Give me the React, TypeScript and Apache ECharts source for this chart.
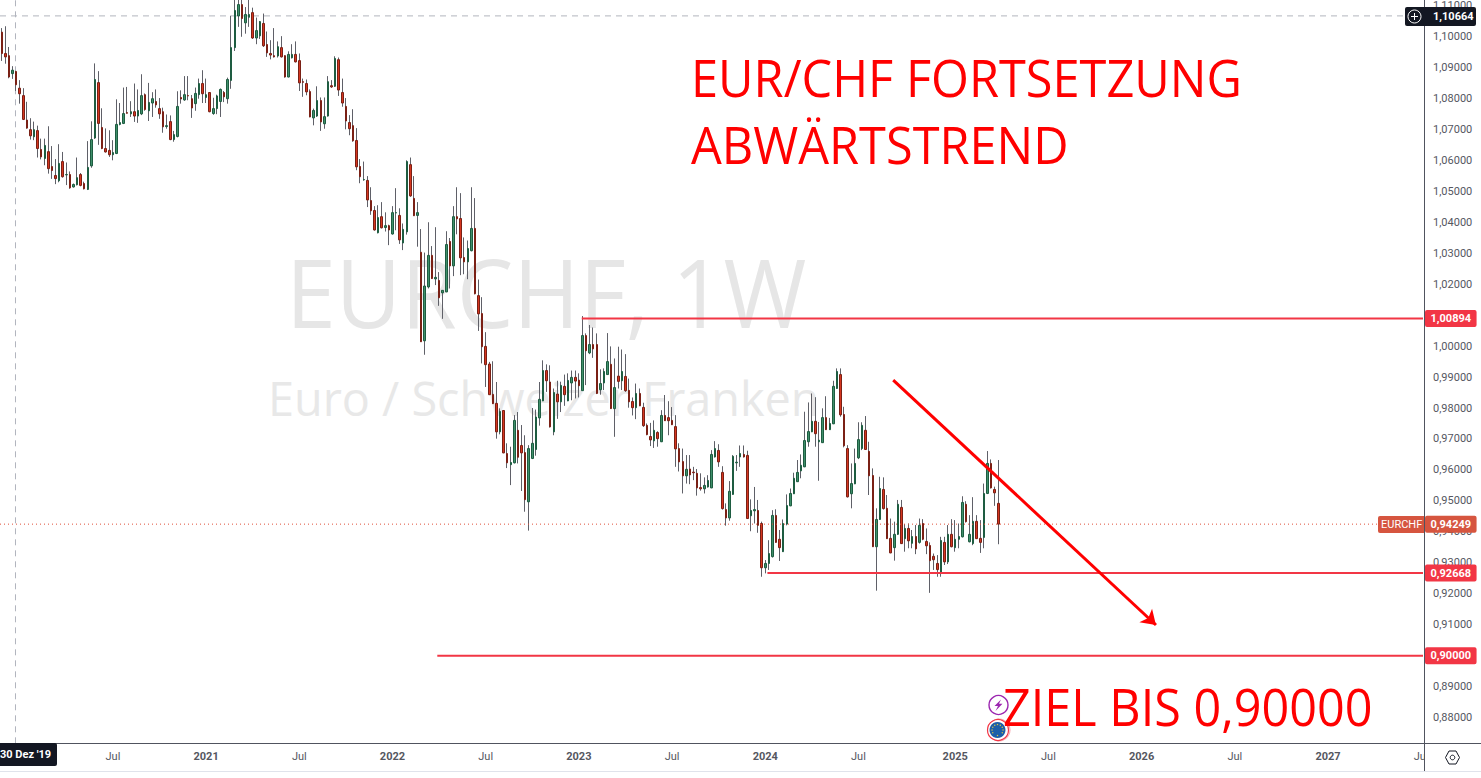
import React, { useEffect, useRef } from "react";
import * as echarts from "echarts";

const opens = [
1.1014,1.0945,1.0938,1.0880,1.0887,1.0833,1.0809,1.0730,1.0699,1.0676,
1.0696,1.0635,1.0606,1.0628,1.0580,1.0551,1.0534,1.0596,1.0553,1.0554,
1.0514,1.0521,1.0554,1.0525,1.0506,1.0582,1.0672,1.0851,1.0706,1.0638,
1.0632,1.0618,1.0622,1.0716,1.0719,1.0754,1.0750,1.0757,1.0743,1.0750,
1.0812,1.0760,1.0785,1.0790,1.0767,1.0757,1.0709,1.0725,1.0667,1.0677,
1.0803,1.0795,1.0809,1.0799,1.0783,1.0812,1.0848,1.0803,1.0819,1.0751,
1.0767,1.0790,1.0819,1.0799,1.0858,1.0964,1.1066,1.1103,1.1044,1.1062,
1.1077,1.0995,1.1002,1.1042,1.0974,1.0945,1.0938,1.0937,1.0964,1.0938,
1.0869,1.0931,1.0942,1.0922,1.0854,1.0848,1.0822,1.0737,1.0743,1.0793,
1.0718,1.0743,1.0841,1.0839,1.0925,1.0819,1.0774,1.0722,1.0712,1.0664,
1.0580,1.0537,1.0535,1.0470,1.0438,1.0366,1.0418,1.0383,1.0389,1.0362,
1.0430,1.0422,1.0333,1.0369,1.0586,1.0477,1.0422,1.0303,1.0017,1.0191,
1.0293,1.0217,1.0212,1.0172,1.0175,1.0338,1.0259,1.0418,1.0412,1.0286,
1.0272,1.0308,1.0380,1.0163,1.0105,0.9999,0.9942,0.9844,0.9815,0.9723,
0.9792,0.9653,0.9617,0.9623,0.9728,0.9679,0.9656,0.9497,0.9637,0.9666,
0.9768,0.9823,0.9921,0.9884,0.9723,0.9845,0.9820,0.9870,0.9823,0.9881,
0.9899,0.9890,0.9856,1.0034,0.9978,1.0005,1.0005,0.9859,0.9881,0.9908,
0.9941,0.9798,0.9903,0.9888,0.9902,0.9857,0.9821,0.9801,0.9847,0.9802,
0.9744,0.9708,0.9694,0.9721,0.9691,0.9776,0.9769,0.9760,0.9740,0.9669,
0.9627,0.9581,0.9603,0.9593,0.9589,0.9543,0.9539,0.9545,0.9542,0.9642,
0.9663,0.9592,0.9472,0.9445,0.9521,0.9623,0.9642,0.9650,0.9647,0.9452,
0.9468,0.9469,0.9427,0.9284,0.9298,0.9320,0.9453,0.9376,0.9336,0.9425,
0.9484,0.9523,0.9562,0.9597,0.9610,0.9691,0.9723,0.9757,0.9691,0.9688,
0.9769,0.9730,0.9749,0.9863,0.9908,0.9779,0.9669,0.9523,0.9555,0.9639,
0.9669,0.9728,0.9660,0.9582,0.9352,0.9440,0.9537,0.9476,0.9379,0.9349,
0.9392,0.9479,0.9378,0.9411,0.9363,0.9385,0.9366,0.9427,0.9369,0.9356,
0.9321,0.9298,0.9268,0.9366,0.9303,0.9392,0.9349,0.9376,0.9384,0.9489,
0.9368,0.9362,0.9434,0.9379,0.9382,0.9524,0.9621,0.9537,0.9492,
];

const closes = [
1.0945,1.0934,1.0869,1.0891,1.0844,1.0815,1.0732,1.0704,1.0679,1.0699,
1.0638,1.0611,1.0648,1.0573,1.0567,1.0541,1.0590,1.0547,1.0554,1.0511,
1.0522,1.0544,1.0519,1.0508,1.0577,1.0667,1.0861,1.0719,1.0638,1.0627,
1.0618,1.0625,1.0716,1.0722,1.0751,1.0752,1.0757,1.0743,1.0761,1.0809,
1.0764,1.0787,1.0799,1.0779,1.0750,1.0708,1.0712,1.0667,1.0683,1.0774,
1.0798,1.0812,1.0808,1.0769,1.0816,1.0848,1.0815,1.0812,1.0757,1.0767,
1.0808,1.0829,1.0805,1.0861,1.0964,1.1084,1.1103,1.1058,1.1071,1.1071,
1.0995,1.1019,1.1048,1.0970,1.0947,1.0940,1.0934,1.0967,1.0934,1.0869,
1.0942,1.0942,1.0918,1.0850,1.0852,1.0821,1.0740,1.0761,1.0793,1.0724,
1.0741,1.0854,1.0837,1.0929,1.0827,1.0785,1.0727,1.0702,1.0663,1.0579,
1.0547,1.0538,1.0472,1.0437,1.0375,1.0415,1.0382,1.0389,1.0375,1.0431,
1.0431,1.0343,1.0377,1.0596,1.0485,1.0421,1.0431,1.0014,1.0194,1.0293,
1.0218,1.0222,1.0156,1.0180,1.0328,1.0259,1.0418,1.0411,1.0285,1.0272,
1.0315,1.0380,1.0169,1.0104,0.9998,0.9940,0.9843,0.9814,0.9723,0.9789,
0.9655,0.9623,0.9624,0.9760,0.9641,0.9655,0.9504,0.9669,0.9686,0.9771,
0.9828,0.9921,0.9888,0.9739,0.9850,0.9820,0.9873,0.9843,0.9889,0.9899,
0.9887,0.9872,1.0034,0.9985,1.0005,0.9991,0.9847,0.9879,0.9918,0.9950,
0.9798,0.9866,0.9886,0.9918,0.9856,0.9820,0.9801,0.9847,0.9807,0.9743,
0.9714,0.9697,0.9728,0.9701,0.9776,0.9759,0.9759,0.9746,0.9668,0.9626,
0.9581,0.9602,0.9584,0.9591,0.9542,0.9539,0.9550,0.9566,0.9650,0.9669,
0.9626,0.9475,0.9445,0.9531,0.9644,0.9625,0.9653,0.9642,0.9443,0.9469,
0.9472,0.9421,0.9284,0.9298,0.9330,0.9453,0.9366,0.9349,0.9427,0.9485,
0.9524,0.9573,0.9592,0.9615,0.9695,0.9724,0.9757,0.9717,0.9696,0.9769,
0.9730,0.9750,0.9870,0.9918,0.9778,0.9678,0.9513,0.9556,0.9621,0.9698,
0.9744,0.9666,0.9581,0.9352,0.9440,0.9540,0.9475,0.9378,0.9332,0.9392,
0.9489,0.9362,0.9411,0.9371,0.9385,0.9345,0.9421,0.9376,0.9355,0.9307,
0.9310,0.9278,0.9372,0.9303,0.9392,0.9352,0.9376,0.9385,0.9495,0.9433,
0.9392,0.9434,0.9378,0.9366,0.9524,0.9621,0.9542,0.9526,0.94249,
];

const highs = [
1.1027,1.1033,1.0966,1.0904,1.0889,1.0859,1.0833,1.0789,1.0736,1.0725,
1.0712,1.0670,1.0670,1.0710,1.0646,1.0604,1.0652,1.0627,1.0593,1.0564,
1.0525,1.0609,1.0559,1.0531,1.0662,1.0726,1.0913,1.0888,1.0768,1.0703,
1.0697,1.0665,1.0797,1.0785,1.0835,1.0837,1.0791,1.0848,1.0829,1.0878,
1.0816,1.0850,1.0820,1.0829,1.0801,1.0770,1.0748,1.0745,1.0695,1.0823,
1.0826,1.0872,1.0872,1.0811,1.0835,1.0864,1.0891,1.0864,1.0820,1.0802,
1.0812,1.0832,1.0824,1.0867,1.1067,1.1120,1.1128,1.1122,1.1095,1.1125,
1.1093,1.1061,1.1050,1.1074,1.1016,1.0988,1.1027,1.0984,1.1001,1.0939,
1.0952,1.0975,1.0984,1.0945,1.0864,1.0861,1.0829,1.0767,1.0839,1.0803,
1.0803,1.0872,1.0859,1.0936,1.0932,1.0864,1.0801,1.0746,1.0765,1.0704,
1.0604,1.0596,1.0549,1.0513,1.0452,1.0455,1.0465,1.0432,1.0392,1.0452,
1.0510,1.0445,1.0396,1.0600,1.0609,1.0549,1.0465,1.0378,1.0302,1.0400,
1.0323,1.0384,1.0239,1.0180,1.0371,1.0349,1.0452,1.0513,1.0494,1.0351,
1.0341,1.0513,1.0478,1.0215,1.0158,1.0045,0.9949,0.9951,0.9884,0.9799,
0.9792,0.9686,0.9675,0.9777,0.9787,0.9745,0.9712,0.9680,0.9800,0.9795,
0.9884,0.9954,0.9941,0.9938,0.9863,0.9888,0.9885,0.9908,0.9912,0.9921,
0.9921,0.9912,1.0097,1.0041,1.0068,1.0060,1.0041,0.9925,0.9928,1.0042,
0.9999,0.9960,0.9998,0.9989,0.9974,0.9895,0.9834,0.9879,0.9863,0.9817,
0.9750,0.9752,0.9760,0.9725,0.9793,0.9842,0.9822,0.9803,0.9777,0.9686,
0.9669,0.9648,0.9648,0.9610,0.9603,0.9589,0.9576,0.9583,0.9664,0.9693,
0.9683,0.9612,0.9492,0.9564,0.9648,0.9648,0.9679,0.9679,0.9662,0.9505,
0.9545,0.9503,0.9433,0.9309,0.9373,0.9470,0.9473,0.9406,0.9440,0.9521,
0.9540,0.9591,0.9632,0.9650,0.9788,0.9818,0.9847,0.9835,0.9755,0.9799,
0.9838,0.9768,0.9888,0.9928,0.9928,0.9804,0.9680,0.9621,0.9669,0.9754,
0.9754,0.9774,0.9691,0.9605,0.9476,0.9578,0.9576,0.9519,0.9443,0.9433,
0.9503,0.9503,0.9425,0.9427,0.9406,0.9422,0.9443,0.9441,0.9411,0.9366,
0.9330,0.9325,0.9384,0.9384,0.9422,0.9441,0.9438,0.9427,0.9515,0.9499,
0.9454,0.9512,0.9454,0.9438,0.9556,0.9661,0.9634,0.9546,0.9632,
];

const lows = [
1.0921,1.0912,1.0865,1.0863,1.0824,1.0783,1.0730,1.0702,1.0667,1.0665,
1.0609,1.0603,1.0584,1.0557,1.0540,1.0523,1.0529,1.0544,1.0520,1.0508,
1.0512,1.0519,1.0516,1.0506,1.0504,1.0576,1.0669,1.0650,1.0636,1.0625,
1.0611,1.0600,1.0620,1.0713,1.0717,1.0751,1.0740,1.0724,1.0721,1.0746,
1.0760,1.0727,1.0740,1.0770,1.0734,1.0689,1.0702,1.0665,1.0660,1.0674,
1.0783,1.0792,1.0794,1.0737,1.0760,1.0799,1.0785,1.0785,1.0755,1.0747,
1.0749,1.0740,1.0788,1.0783,1.0831,1.0953,1.1031,1.0999,1.1009,1.1031,
1.0992,1.0975,1.0992,1.0966,1.0934,1.0926,1.0932,1.0932,1.0932,1.0867,
1.0868,1.0929,1.0916,1.0824,1.0805,1.0810,1.0739,1.0713,1.0740,1.0695,
1.0702,1.0741,1.0834,1.0837,1.0808,1.0773,1.0700,1.0681,1.0660,1.0568,
1.0526,1.0534,1.0449,1.0424,1.0373,1.0364,1.0380,1.0370,1.0326,1.0360,
1.0374,1.0330,1.0310,1.0360,1.0482,1.0420,1.0321,1.0014,0.9972,1.0186,
1.0217,1.0197,1.0130,1.0088,1.0174,1.0186,1.0226,1.0361,1.0229,1.0232,
1.0216,1.0306,1.0167,1.0049,0.9944,0.9868,0.9842,0.9813,0.9701,0.9715,
0.9654,0.9606,0.9551,0.9621,0.9621,0.9532,0.9465,0.9404,0.9635,0.9646,
0.9743,0.9822,0.9852,0.9737,0.9712,0.9765,0.9787,0.9807,0.9822,0.9825,
0.9831,0.9834,0.9855,0.9874,0.9974,0.9962,0.9845,0.9843,0.9858,0.9907,
0.9797,0.9707,0.9863,0.9858,0.9852,0.9801,0.9776,0.9764,0.9806,0.9739,
0.9712,0.9677,0.9671,0.9675,0.9690,0.9758,0.9712,0.9745,0.9610,0.9595,
0.9524,0.9556,0.9554,0.9567,0.9517,0.9533,0.9524,0.9543,0.9541,0.9640,
0.9610,0.9472,0.9420,0.9436,0.9520,0.9597,0.9610,0.9640,0.9442,0.9402,
0.9427,0.9397,0.9255,0.9266,0.9277,0.9317,0.9365,0.9306,0.9335,0.9421,
0.9483,0.9522,0.9561,0.9573,0.9609,0.9675,0.9722,0.9675,0.9565,0.9687,
0.9729,0.9729,0.9748,0.9862,0.9772,0.9673,0.9511,0.9476,0.9554,0.9635,
0.9664,0.9665,0.9519,0.9351,0.9210,0.9439,0.9472,0.9377,0.9331,0.9307,
0.9390,0.9361,0.9336,0.9347,0.9347,0.9328,0.9362,0.9373,0.9328,0.9203,
0.9277,0.9255,0.9255,0.9293,0.9296,0.9350,0.9336,0.9347,0.9382,0.9430,
0.9366,0.9357,0.9377,0.9332,0.9347,0.9522,0.9540,0.9484,0.9360,
];

// Weekly categories, first candle 2 Dec 2019, running on past the data into 2027
const WEEK_COUNT = 397;
const categories: string[] = [];
for (let i = 0; i < WEEK_COUNT; i++) {
  categories.push(new Date(Date.UTC(2019, 11, 2 + i * 7)).toISOString().slice(0, 10));
}

const xTickLabels: Record<string, string> = {
  "2020-07-06": "Jul", "2021-01-04": "2021", "2021-07-05": "Jul", "2022-01-03": "2022",
  "2022-07-04": "Jul", "2023-01-02": "2023", "2023-07-03": "Jul", "2024-01-01": "2024",
  "2024-07-01": "Jul", "2025-01-06": "2025", "2025-07-07": "Jul", "2026-01-05": "2026",
  "2026-07-06": "Jul", "2027-01-04": "2027", "2027-07-05": "Jul",
};
// 0,90000 and 1,01000 are left out: the price tags take their place in the reference
const yTickValues = [0.88,0.89,0.91,0.92,0.93,0.94,0.95,0.96,0.97,0.98,0.99,1.0,1.02,1.03,1.04,1.05,1.06,1.07,1.08,1.09,1.10,1.11];

const LAST_PRICE = 0.94249;
const CROSS_PRICE = 1.10664;
const CROSS_WEEK = 4.32;
const levelLines = [
  { price: 1.00894, from: 162.3 },
  { price: 0.92668, from: 214.1 },
  { price: 0.9, from: 122.0 },
];
const arrowStart: [number, number] = [249.2, 0.98902];
const arrowEnd: [number, number] = [322.5, 0.90991];

const Y_MIN = 0.87171;
const Y_MAX = 1.11172;
const fmt = (v: number) => v.toFixed(5).replace(".", ",");
const UI_FONT = "Roboto, sans-serif";
const NOTE_FONT = "'Open Sans', sans-serif";

const note = (text: string, x: number, y: number, scaleX: number, size: number, fill: string, z: number) => ({
  type: "text", z, silent: true, x, y, scaleX, originX: 0, originY: 0,
  style: { x: 0, y: 0, textVerticalAlign: "bottom", text, fill, font: `${size}px ${NOTE_FONT}` },
});

export default function App() {
  const ref = useRef<HTMLDivElement>(null);
  useEffect(() => {
    const chart = echarts.init(ref.current!, undefined, { renderer: "svg" });
    const wick = opens.map((o, i) => [o, closes[i], lows[i], highs[i]]);
    const body = opens.map((o, i) => [o, closes[i], Math.min(o, closes[i]), Math.max(o, closes[i])]);
    const tag = (bg: string) => ({
      show: true, distance: 2, align: "left", verticalAlign: "middle",
      color: "#fff", backgroundColor: bg, borderRadius: 2, padding: [2, 5.5, 2, 5.5],
      fontFamily: UI_FONT, fontWeight: "bold", fontSize: 11, lineHeight: 13,
      formatter: (p: any) => fmt(p.value[1]),
    });
    const lineSeries = (name: string, data: any[], lineStyle: any, extra: any = {}) => ({
      type: "line", name, xAxisIndex: 1, yAxisIndex: 0, data, symbol: "none", silent: true, clip: false,
      lineStyle, z: 5, ...extra,
    });
    const graphic: any[] = [
      note("EURCHF, 1W", 286, 339, 0.935, 96, "#e6e6e6", -5),
      note("Euro / Schweizer Franken", 268, 421, 0.975, 48, "#e8e8e8", -5),
      note("EUR/CHF FORTSETZUNG", 691, 103, 0.937, 52, "#ff0000", 60),
      note("ABWÄRTSTREND", 691, 170, 0.937, 52, "#ff0000", 60),
      note("ZIEL BIS 0,90000", 1003, 732, 0.934, 52, "#ff0000", 60),
      // bottom strip and right scale frame
      { type: "rect", z: 50, silent: true, shape: { x: 1425, y: 744, width: 56, height: 26 }, style: { fill: "#fff" } },
      { type: "line", z: 51, silent: true, shape: { x1: 0, y1: 743.5, x2: 1481, y2: 743.5 }, style: { stroke: "#50535e", lineWidth: 1 } },
      { type: "line", z: 51, silent: true, shape: { x1: 1424.5, y1: 0, x2: 1424.5, y2: 771 }, style: { stroke: "#50535e", lineWidth: 1 } },
      { type: "line", z: 51, silent: true, shape: { x1: 0, y1: 771.5, x2: 1481, y2: 771.5 }, style: { stroke: "#e0e3eb", lineWidth: 1 } },
      // crosshair tags
      { type: "rect", z: 52, shape: { x: 0, y: 743, width: 57, height: 23, r: [0, 2, 2, 0] }, style: { fill: "#131722" } },
      { type: "text", z: 53, style: { x: 0, y: 754.5, textVerticalAlign: "middle", text: "30 Dez '19", fill: "#fff", font: `bold 11px ${UI_FONT}` } },
      { type: "rect", z: 52, shape: { x: 1405, y: 7, width: 71, height: 19, r: 2 }, style: { fill: "#131722" } },
      { type: "text", z: 53, style: { x: 1433, y: 16.5, textVerticalAlign: "middle", text: fmt(CROSS_PRICE), fill: "#fff", font: `bold 11px ${UI_FONT}` } },
      { type: "circle", z: 53, shape: { cx: 1414.5, cy: 16.5, r: 6.5 }, style: { fill: "none", stroke: "#fff", lineWidth: 1 } },
      { type: "line", z: 53, shape: { x1: 1411, y1: 16.5, x2: 1418, y2: 16.5 }, style: { stroke: "#fff", lineWidth: 1 } },
      { type: "line", z: 53, shape: { x1: 1414.5, y1: 13, x2: 1414.5, y2: 20 }, style: { stroke: "#fff", lineWidth: 1 } },
      // symbol name tag by the last price
      { type: "rect", z: 52, shape: { x: 1378, y: 516, width: 46, height: 17, r: [2, 0, 0, 2] }, style: { fill: "#d6553f" } },
      { type: "text", z: 53, style: { x: 1381, y: 524.5, textVerticalAlign: "middle", text: "EURCHF", fill: "#fff", font: `11px ${UI_FONT}` } },
      // settings hexagon
      { type: "polygon", z: 53, shape: { points: [[1445.5, 757.5], [1449, 751], [1456, 751], [1459.5, 757.5], [1456, 764], [1449, 764]] }, style: { fill: "none", stroke: "#131722", lineWidth: 1 } },
      { type: "circle", z: 53, shape: { cx: 1452.5, cy: 757.5, r: 2.3 }, style: { fill: "none", stroke: "#131722", lineWidth: 1 } },
      // event markers
      { type: "circle", z: 55, shape: { cx: 998.5, cy: 705, r: 9.5 }, style: { fill: "#fff", stroke: "#9c27b0", lineWidth: 1.4 } },
      { type: "polygon", z: 56, shape: { points: [[1001, 699.5], [994.5, 706], [998, 706], [995.5, 711], [1002.5, 703.7], [999, 703.7]] }, style: { fill: "#9c27b0" } },
      { type: "circle", z: 55, shape: { cx: 999, cy: 730, r: 11 }, style: { fill: "#fff", stroke: "#f7a0a8", lineWidth: 1 } },
      { type: "circle", z: 55, shape: { cx: 998, cy: 730, r: 10.5 }, style: { fill: "#fff", stroke: "#f23645", lineWidth: 1.2 } },
      { type: "circle", z: 56, shape: { cx: 997.5, cy: 730, r: 8 }, style: { fill: "#1d5fa8" } },
      ...[0, 1, 2, 3, 4, 5, 6, 7, 8, 9, 10, 11].map((k) => ({
        type: "circle", z: 57,
        shape: { cx: 997.5 + 5.5 * Math.cos((k * Math.PI) / 6), cy: 730 + 5.5 * Math.sin((k * Math.PI) / 6), r: 0.7 },
        style: { fill: "#e0c341" },
      })),
    ];
    chart.setOption({
      animation: false,
      backgroundColor: "#ffffff",
      grid: { left: -0.5, right: 58, top: 0, bottom: 34.7, containLabel: false },
      xAxis: [
        {
          type: "category", data: categories, boundaryGap: true,
          axisLine: { show: false }, axisTick: { show: false }, splitLine: { show: false },
          axisLabel: {
            show: true, hideOverlap: false, margin: 8, fontFamily: UI_FONT, fontSize: 11, color: "#55575f",
            interval: (_: number, v: string) => v in xTickLabels,
            formatter: (v: string) => (xTickLabels[v] === "Jul" ? "Jul" : `{y|${xTickLabels[v] ?? ""}}`),
            rich: { y: { fontFamily: UI_FONT, fontSize: 11, fontWeight: "bold", color: "#55575f" } },
          },
        },
        { type: "value", min: 0, max: WEEK_COUNT, show: false },
      ],
      yAxis: [{
        type: "value", position: "right", min: Y_MIN, max: Y_MAX, scale: true,
        axisLine: { show: false }, axisTick: { show: false }, splitLine: { show: false },
        axisLabel: {
          show: true, margin: 10, fontFamily: UI_FONT, fontSize: 11, color: "#55575f",
          customValues: yTickValues, formatter: (v: number) => fmt(v),
        },
      }],
      graphic,
      series: [
        lineSeries("cross-h", [[0, CROSS_PRICE], [WEEK_COUNT, CROSS_PRICE]], { color: "#b2b5be", width: 1, type: [6, 5] }, { z: 1 }),
        lineSeries("cross-v", [[CROSS_WEEK, Y_MIN], [CROSS_WEEK, Y_MAX]], { color: "#b2b5be", width: 1, type: [6, 5] }, { z: 1 }),
        {
          type: "candlestick", name: "wicks", data: wick, barWidth: 1, silent: true, z: 2,
          itemStyle: { color: "#5f6068", color0: "#5f6068", borderColor: "#5f6068", borderColor0: "#5f6068", borderColorDoji: "#5f6068", borderWidth: 1 },
        },
        {
          type: "candlestick", name: "EURCHF", data: body, barWidth: 2, silent: true, z: 3,
          itemStyle: { color: "#3f8f6a", color0: "#d5361f", borderColor: "#1e5c41", borderColor0: "#7a2015", borderColorDoji: "#7a2015", borderWidth: 1 },
        },
        lineSeries("last", [[0, LAST_PRICE], [WEEK_COUNT, LAST_PRICE]], { color: "#e0503a", width: 1, type: [1, 3] }, {
          endLabel: tag("#d6553f"), z: 4,
        }),
        ...levelLines.map((l) =>
          lineSeries(fmt(l.price), [[l.from, l.price], [WEEK_COUNT, l.price]], { color: "#f23645", width: 2 }, { endLabel: tag("#f23645") })
        ),
        lineSeries("arrow", [arrowStart, { value: arrowEnd, symbol: "arrow", symbolSize: 14, symbolRotate: -132.9, itemStyle: { color: "#ff0000" } }],
          { color: "#ff0000", width: 3 }, { symbol: "none", showSymbol: true, showAllSymbol: true }),
      ],
    });
    return () => chart.dispose();
  }, []);
  return <div ref={ref} style={{ position: "fixed", left: 0, top: 0, width: 1481, height: 778, overflow: "hidden" }} />;
}
